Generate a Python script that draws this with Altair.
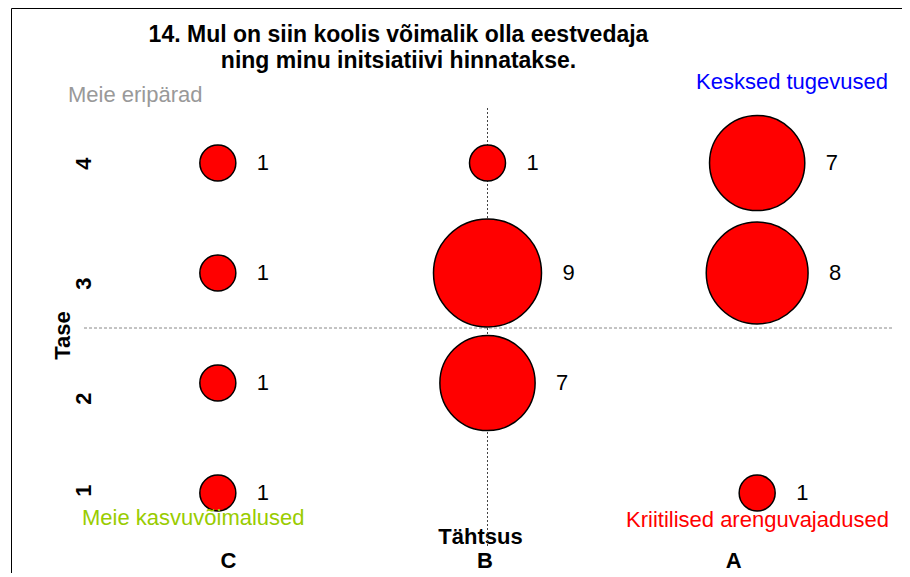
import altair as alt
import pandas as pd

# --- data ---
col_names = ["C", "B", "A"]          # Tähtsus categories, left to right
col_pos = [1, 2, 3]
bub_col = ["C", "C", "C", "C", "B", "B", "B", "A", "A", "A"]
bub_level = [4, 3, 2, 1, 4, 3, 2, 4, 3, 1]     # Tase
bub_count = [1, 1, 1, 1, 1, 9, 7, 7, 8, 1]
level_ticks = [1, 2, 3, 4]
divider_x = [2]
divider_y = [2.5]

title_lines = ["14. Mul on siin koolis võimalik olla eestvedaja",
               "ning minu initsiatiivi hinnatakse."]
quad_text = ["Meie eripärad", "Kesksed tugevused", "Meie kasvuvõimalused", "Kriitilised arenguvajadused"]
quad_color = ["#999999", "#0000ff", "#99cc00", "#ff0000"]

FONT = "Liberation Sans"
W, H = 809, 440
XDOM = [0.5, 3.5]
YDOM = [0.5, 4.5]
PX_PER_X = W / (XDOM[1] - XDOM[0])

pos_map = dict(zip(col_names, col_pos))
df = pd.DataFrame({
    "col": bub_col,
    "x": [pos_map[c] for c in bub_col],
    "y": bub_level,
    "n": bub_count,
})

xscale = alt.Scale(domain=XDOM, nice=False, zero=False)
yscale = alt.Scale(domain=YDOM, nice=False, zero=False)

label_expr = "{1: 'C', 2: 'B', 3: 'A'}[datum.value]"

x_label_offset = {"condition": [{"test": "datum.value == 1", "value": 10},
                                {"test": "datum.value == 2", "value": -3},
                                {"test": "datum.value == 3", "value": -24}],
                  "value": 0}
y_label_offset = {"condition": [{"test": "datum.value == 3", "value": 10},
                                {"test": "datum.value == 2", "value": 15},
                                {"test": "datum.value == 1", "value": -3}],
                  "value": 0}

xaxis = alt.Axis(values=col_pos, labelExpr=label_expr, title="Tähtsus",
                 grid=False, ticks=False, domain=False,
                 labelFont=FONT, labelFontSize=22, labelFontWeight="bold", labelColor="black",
                 labelPadding=2, labelOffset=x_label_offset,
                 titleFont=FONT, titleFontSize=22, titleFontWeight="bold", titleColor="black",
                 titleX=397, titleY=-12, titleBaseline="middle", titleAlign="center")
yaxis = alt.Axis(values=level_ticks, title="Tase", grid=False, ticks=False, domain=False,
                 labelAngle=270, offset=-12, labelPadding=0, labelOffset=y_label_offset,
                 labelFont=FONT, labelFontSize=22, labelFontWeight="bold", labelColor="black",
                 titleFont=FONT, titleFontSize=22, titleFontWeight="bold", titleColor="black",
                 titleAngle=270, titlePadding=-2, titleY=227, titleBaseline="bottom")

vrule = alt.Chart(pd.DataFrame({"x": divider_x})).mark_rule(
    color="#444444", strokeDash=[2, 2], strokeWidth=1
).encode(x=alt.X("x:Q", scale=xscale, axis=xaxis))

hrule = alt.Chart(pd.DataFrame({"y": divider_y})).mark_rule(
    color="#888888", strokeDash=[3, 2], strokeWidth=1
).encode(y=alt.Y("y:Q", scale=yscale, axis=yaxis))

bubbles = alt.Chart(df).mark_point(
    shape="circle", filled=True, fill="#ff0000", stroke="black", strokeWidth=1.5, opacity=1
).encode(
    x=alt.X("x:Q", scale=xscale, axis=xaxis),
    y=alt.Y("y:Q", scale=yscale, axis=yaxis),
    size=alt.Size("n:Q", scale=alt.Scale(type="linear", domain=[0, 9], range=[0, 1296 * 9], zero=True),
                  legend=None),
)

labels = alt.Chart(df).transform_calculate(
    xl=f"datum.x + (18 * sqrt(datum.n) + 21) / {PX_PER_X}"
).mark_text(align="left", baseline="middle", font=FONT, fontSize=22, color="black").encode(
    x=alt.X("xl:Q", scale=xscale, axis=xaxis),
    y=alt.Y("y:Q", scale=yscale, axis=yaxis),
    text="n:Q",
)

quad_x = [-15, 613, -1, 543]
quad_y = [-13, -26, 410, 412]
quads = []
for t, c, qx, qy in zip(quad_text, quad_color, quad_x, quad_y):
    quads.append(
        alt.Chart(alt.Data(values=[{}])).mark_text(
            text=t, color=c, font=FONT, fontSize=22, align="left", baseline="middle"
        ).encode(x=alt.value(qx), y=alt.value(qy))
    )

frame_left = alt.Chart(alt.Data(values=[{}])).mark_rule(color="black", strokeWidth=1).encode(
    x=alt.value(-71.5), y=alt.value(-99.5), y2=alt.value(470))
frame_top = alt.Chart(alt.Data(values=[{}])).mark_rule(color="black", strokeWidth=1).encode(
    x=alt.value(-71.5), x2=alt.value(830), y=alt.value(-99.5))

chart = alt.layer(vrule, hrule, bubbles, labels, *quads, frame_left, frame_top).properties(
    width=W, height=H,
    background="white",
    title=alt.TitleParams(text=title_lines, font=FONT, fontSize=23, fontWeight="bold",
                          color="black", anchor="middle", dx=-89, dy=88, offset=0, frame="group",
                          baseline="bottom", lineHeight=26),
    autosize=alt.AutoSizeParams(type="none"),
    padding={"left": 75, "top": 100, "right": 10, "bottom": 25},
).configure_view(stroke=None)

chart.save("out.html", embed_options={"renderer": "svg", "actions": False})
